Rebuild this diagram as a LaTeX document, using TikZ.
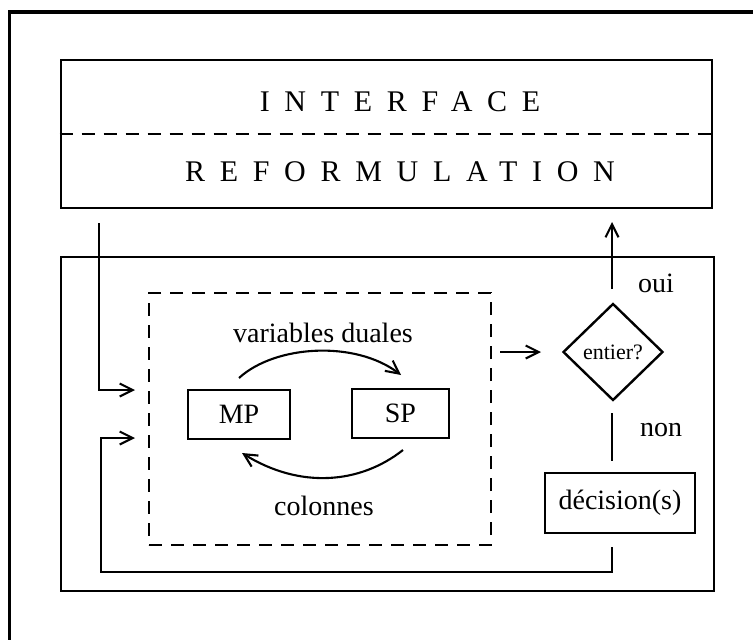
\documentclass[tikz,border=0pt]{standalone}
\usepackage{fontspec}
\setmainfont{Liberation Serif}
\usetikzlibrary{arrows.meta,shapes.geometric}
\begin{document}
\begin{tikzpicture}[x=1pt,y=-1pt,
  frame/.style={line width=3.8pt},
  boxline/.style={draw,line width=2.8pt,inner sep=0pt},
  dashline/.style={line width=2.2pt,dash pattern=on 13pt off 9pt},
  conn/.style={line width=2.1pt},
  arr/.style={conn,-{Straight Barb[length=13pt,width=13pt,line width=2.1pt]}},
  lbl/.style={font=\fontsize{28}{32}\selectfont,inner sep=0pt},
  spaced/.style={font=\fontsize{30}{34}\selectfont\addfontfeature{LetterSpace=49},inner sep=0pt}]
\useasboundingbox (0,0) rectangle (753,640);
% outer frame (cropped at right and bottom)
\draw[frame] (9.5,645) -- (9.5,12) -- (760,12);
% top box
\node[boxline,minimum width=651pt,minimum height=148pt] (top) at (386.5,134) {};
\draw[dashline] (top.west) -- (top.east);
\node[spaced] (interface) at (400,102) {INTERFACE};
\node[spaced] (reform) at (400,172) {REFORMULATION};
% bottom box
\node[boxline,minimum width=653pt,minimum height=334pt] (bot) at (387.5,424) {};
% dashed box
\node[draw,dashline,minimum width=342pt,minimum height=252pt,inner sep=0pt] (dbox) at (320,419) {};
% MP and SP
\node[boxline,lbl,minimum width=102pt,minimum height=49pt] (mp) at (239,414.5) {MP};
\node[boxline,lbl,minimum width=97pt,minimum height=49pt] (sp) at (400.5,413.5) {SP};
\node[lbl] (vd) at (323,333) {variables duales};
\node[lbl] (col) at (324,506) {colonnes};
% diamond
\node[draw,diamond,line width=2.4pt,inner sep=0pt,minimum width=100pt,minimum height=97pt,font=\fontsize{22}{26}\selectfont] (ent) at (613,352) {entier?};
\node[lbl] (oui) at (656,283) {oui};
\node[lbl] (non) at (661,430) {non};
% decision box
\node[boxline,lbl,minimum width=150pt,minimum height=60pt] (dec) at (620,503) {décision(s)};
% coordinates for free ends
\coordinate (c1s) at (99,223);
\coordinate (c1e) at (135,390);
\coordinate (d2) at (612,547);
\coordinate (c2b) at (101,572);
\coordinate (c2e) at (135,438);
\coordinate (c3s) at (500,352);
\coordinate (c3e) at (541,352);
\coordinate (c4s) at (612,289);
\coordinate (c4e) at (612,222);
\coordinate (c5s) at (612,413);
\coordinate (c5e) at (612,461);
\coordinate (a1s) at (239,378);
\coordinate (a1e) at (401,375);
\coordinate (a2s) at (403,450);
\coordinate (a2e) at (242,453);
% connectors
\draw[arr] (c1s) |- (c1e);
\draw[arr] (d2) |- (c2b) |- (c2e);
\draw[arr] (c3s) -- (c3e);
\draw[arr] (c4s) -- (c4e);
\draw[conn] (c5s) -- (c5e);
\draw[arr] (a1s) .. controls (275,345) and (355,340) .. (a1e);
\draw[arr] (a2s) .. controls (360,484) and (300,489) .. (a2e);
\end{tikzpicture}
\end{document}
